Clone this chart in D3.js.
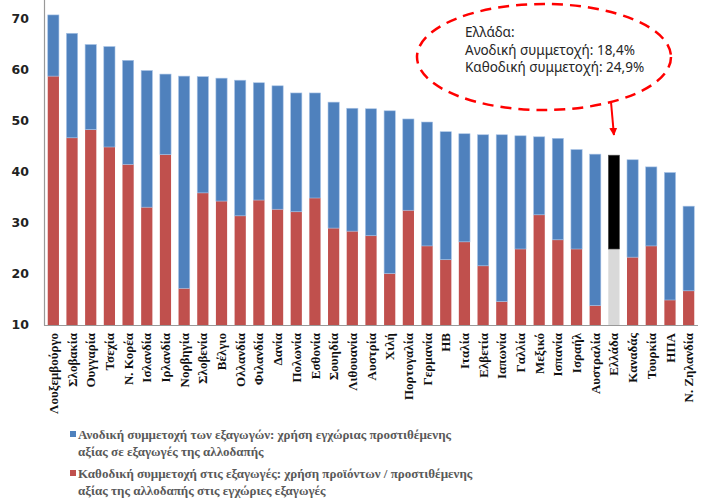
<!DOCTYPE html>
<html><head><meta charset="utf-8">
<script src="https://cdn.jsdelivr.net/npm/d3@7"></script>
<style>body{margin:0;background:#fff;}svg{display:block;}</style>
</head><body>
<svg id="c" width="711" height="500"></svg>
<script>
const categories = ["Λουξεμβούργο","Σλοβακία","Ουγγαρία","Τσεχία","Ν. Κορέα","Ισλανδία","Ιρλανδία","Νορβηγία","Σλοβενία","Βέλγιο","Ολλανδία","Φιλανδία","Δανία","Πολωνία","Εσθονία","Σουηδία","Λιθουανία","Αυστρία","Χιλή","Πορτογαλία","Γερμανία","ΗΒ","Ιταλία","Ελβετία","Ιαπωνία","Γαλλία","Μεξικό","Ισπανία","Ισραήλ","Αυστραλία","Ελλάδα","Καναδάς","Τουρκία","ΗΠΑ","Ν. Ζηλανδία"];
const downward = [58.8,46.7,48.3,44.9,41.5,33.1,43.4,17.2,35.9,34.3,31.4,34.5,32.7,32.2,34.9,29.0,28.4,27.5,20.1,32.5,25.5,22.8,26.3,21.6,14.6,24.9,31.6,26.7,24.9,13.8,24.9,23.3,25.5,14.9,16.7];
const upward = [12.0,20.5,16.7,19.7,20.4,26.8,15.8,41.6,22.8,24.1,26.6,23.0,24.2,23.3,20.6,24.7,24.1,24.9,31.9,17.9,24.3,25.1,21.2,25.7,32.7,22.2,15.3,19.9,19.5,29.7,18.4,19.1,15.5,25.0,16.6];
const yTicks = [10,20,30,40,50,60,70];
const highlight = "Ελλάδα";
const legendLabels = [
  ["Ανοδική συμμετοχή των εξαγωγών: χρήση εγχώριας προστιθέμενης","αξίας σε εξαγωγές της αλλοδαπής"],
  ["Καθοδική συμμετοχή στις εξαγωγές: χρήση προϊόντων / προστιθέμενης","αξίας της αλλοδαπής στις εγχώριες εξαγωγές"]
];
const noteLines = ["Ελλάδα:","Ανοδική συμμετοχή: 18,4%","Καθοδική συμμετοχή: 24,9%"];

const BLUE="#4F81BD", RED="#C0504D";
const svg = d3.select("#c");
const x = d3.scaleBand().domain(categories).range([44,698]).paddingInner(0.4).paddingOuter(0.2);
const y = d3.scaleLinear().domain([10,70]).range([325,19]);

const data = categories.map((c,i)=>({c, d:downward[i], u:upward[i]}));

// bars
const g = svg.append("g");
g.selectAll("rect.down").data(data).join("rect")
  .attr("x",d=>x(d.c)).attr("width",x.bandwidth())
  .attr("y",d=>y(d.d)).attr("height",d=>y(10)-y(d.d))
  .attr("fill",d=>d.c===highlight?"#D9D9D9":RED);
g.selectAll("rect.up").data(data).join("rect")
  .attr("x",d=>x(d.c)).attr("width",x.bandwidth())
  .attr("y",d=>y(d.d+d.u)).attr("height",d=>y(d.d)-y(d.d+d.u))
  .attr("fill",d=>d.c===highlight?"#000":BLUE)
  .attr("stroke",d=>d.c===highlight?"#555":"#a9c4e6").attr("stroke-width",0.6);

// axes
svg.append("line").attr("x1",44.5).attr("x2",44.5).attr("y1",0).attr("y2",y(10)+0.5).attr("stroke","#999").attr("stroke-width",1.2);
svg.append("line").attr("x1",44).attr("x2",698).attr("y1",y(10)+0.5).attr("y2",y(10)+0.5).attr("stroke","#999").attr("stroke-width",1.2);

svg.append("g").selectAll("text").data(yTicks).join("text")
  .attr("x",29).attr("y",d=>y(d)).attr("dy","0.35em").attr("text-anchor","end")
  .attr("font-family","DejaVu Sans").attr("font-weight","bold").attr("font-size",12.5).attr("fill","#222")
  .text(d=>d);

svg.append("g").selectAll("text").data(categories).join("text")
  .attr("transform",d=>`translate(${x(d)+x.bandwidth()/2},333) rotate(-90)`)
  .attr("dy","0.35em").attr("text-anchor","end")
  .attr("font-family","Liberation Serif").attr("font-weight","bold").attr("font-size",13).attr("fill","#111")
  .text(d=>d);

// legend
const legY=[[439,456],[478,495]];
[BLUE,RED].forEach((col,i)=>{
  svg.append("rect").attr("x",70).attr("y",legY[i][0]-8).attr("width",6).attr("height",6).attr("fill",col);
  legendLabels[i].forEach((t,j)=>{
    svg.append("text").attr("x",78).attr("y",legY[i][j])
      .attr("font-family","Liberation Serif").attr("font-weight","bold").attr("font-size",13).attr("fill","#595959").text(t);
  });
});

// annotation ellipse
svg.append("ellipse").attr("cx",544).attr("cy",57).attr("rx",127).attr("ry",53)
  .attr("fill","none").attr("stroke","#FF0000").attr("stroke-width",2.5).attr("stroke-dasharray","11,7");
noteLines.forEach((t,i)=>{
  svg.append("text").attr("x",465).attr("y",37+i*17.5)
    .attr("font-family","Noto Sans").attr("font-size",13.5).attr("fill","#262626").text(t);
});
const gx = x(highlight)+x.bandwidth()/2;
svg.append("defs").append("marker").attr("id","ah").attr("viewBox","0 0 10 10").attr("refX",9).attr("refY",5)
  .attr("markerWidth",4).attr("markerHeight",4).attr("orient","auto")
  .append("path").attr("d","M0,0L10,5L0,10z").attr("fill","#FF0000");
svg.append("line").attr("x1",gx-3).attr("y1",101).attr("x2",gx).attr("y2",135)
  .attr("stroke","#FF0000").attr("stroke-width",2).attr("marker-end","url(#ah)");
</script>
</body></html>
